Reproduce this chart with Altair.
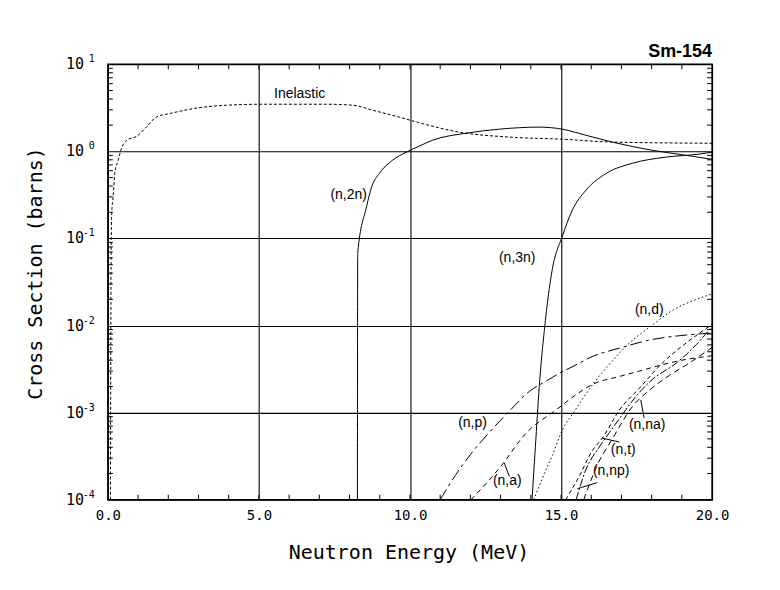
import altair as alt
import pandas as pd

# ---------------- data ----------------
inel_E = [0.085, 0.095, 0.105, 0.115, 0.13, 0.175, 0.23, 0.34, 0.45, 0.62, 0.95, 1.28, 1.61, 2.05, 2.38, 2.71,
          3.93, 5.12, 7.24, 8.1, 8.76, 9.65, 10.25, 11.64, 13.29, 15.04, 16.69, 20.0]
inel_S = [1e-4, 3e-3, 0.05, 0.12, 0.2, 0.30, 0.56, 0.79, 1.08, 1.34, 1.49, 1.91, 2.49, 2.72, 2.89, 3.05,
          3.39, 3.48, 3.48, 3.39, 2.97, 2.47, 2.16, 1.66, 1.46, 1.38, 1.28, 1.24]

n2n_E = [8.26, 8.27, 8.56, 8.73, 8.99, 9.42, 9.88, 10.31, 10.74, 11.87, 12.96, 14.28, 15.04, 15.83, 16.69, 18.02, 19.34, 20.0]
n2n_S = [1e-4, 0.068, 0.23, 0.39, 0.56, 0.79, 0.98, 1.15, 1.34, 1.62, 1.80, 1.90, 1.80, 1.53, 1.28, 1.03, 0.88, 0.81]

n3n_E = [14.04, 14.15, 14.28, 14.45, 14.71, 15.04, 15.37, 15.83, 16.5, 17.36, 18.48, 19.57, 20.0]
n3n_S = [1e-4, 4e-4, 2e-3, 9e-3, 0.044, 0.105, 0.21, 0.36, 0.56, 0.73, 0.86, 0.93, 0.98]

np_E = [11.0, 11.5, 12.0, 12.6, 13.3, 13.95, 14.55, 15.0, 15.4, 16.03, 16.93, 18.0, 19.0, 20.0]
np_S = [1e-4, 1.9e-4, 3.3e-4, 5.8e-4, 1.05e-3, 1.75e-3, 2.35e-3, 2.9e-3, 3.4e-3, 4.4e-3, 5.5e-3, 6.9e-3, 7.7e-3, 8.2e-3]

na_E = [12.02, 13.0, 13.84, 14.83, 15.49, 16.03, 16.93, 17.59, 18.35, 19.0, 19.67, 20.0]
na_S = [1e-4, 2.4e-4, 5.8e-4, 1.07e-3, 1.6e-3, 2.1e-3, 2.6e-3, 3.0e-3, 3.55e-3, 4.0e-3, 4.35e-3, 4.5e-3]

nd_E = [14.1, 14.5, 14.71, 15.04, 15.44, 16.0, 16.6, 17.2, 18.0, 18.7, 19.4, 20.0]
nd_S = [1e-4, 2.2e-4, 3.2e-4, 6.3e-4, 1.03e-3, 2e-3, 3.6e-3, 6e-3, 1e-2, 1.5e-2, 1.95e-2, 2.3e-2]

nt_E = [15.15, 15.6, 16.0, 16.4, 16.93, 17.59, 18.35, 19.14, 20.0]
nt_S = [1e-4, 1.85e-4, 3.5e-4, 5.3e-4, 1.07e-3, 1.9e-3, 3.7e-3, 6.3e-3, 1.03e-2]

nnp_E = [15.5, 15.82, 16.26, 16.6, 17.02, 17.52, 18.02, 18.81, 19.47, 20.0]
nnp_S = [1e-4, 2.2e-4, 4e-4, 5.9e-4, 9.4e-4, 1.6e-3, 2.4e-3, 3.7e-3, 6.0e-3, 9.8e-3]

nna_E = [15.75, 16.2, 16.7, 17.36, 18.0, 18.6, 19.24, 19.6, 20.0]
nna_S = [1e-4, 2.5e-4, 5e-4, 1.17e-3, 1.9e-3, 2.7e-3, 3.7e-3, 4.5e-3, 5.6e-3]

# curve labels
lab_text = ["Inelastic", "(n,2n)", "(n,3n)", "(n,d)", "(n,p)", "(n,a)", "(n,na)", "(n,t)", "(n,np)"]
lab_E = [6.35, 7.97, 13.55, 17.92, 12.07, 13.22, 17.85, 17.06, 16.66]
lab_S = [4.53, 0.318, 0.0596, 0.0151, 7.64e-4, 1.65e-4, 7.24e-4, 3.74e-4, 2.15e-4]

# leader lines for labels
ptr_E1 = [13.29, 17.75, 16.93, 16.20]
ptr_S1 = [1.85e-4, 8.7e-4, 4.6e-4, 1.57e-4]
ptr_E2 = [13.12, 17.64, 16.36, 15.54]
ptr_S2 = [2.65e-4, 1.4e-3, 5.1e-4, 1.34e-4]

# axes
x_ticks = [0, 5, 10, 15, 20]
x_minor = [e for e in range(1, 20)]
dec_vals = [10, 1, 0.1, 0.01, 0.001, 0.0001]
dec_exp = ["1", "0", "-1", "-2", "-3", "-4"]
y_minor = [m * d for d in [1e-4, 1e-3, 1e-2, 1e-1, 1] for m in range(2, 10)]

W, H = 605, 436
MONO = "DejaVu Sans Mono"
SANS = "Liberation Sans"

xs = alt.Scale(domain=[0, 20], nice=False, zero=False)
ys = alt.Scale(type="log", domain=[1e-4, 10], nice=False)

xaxis = alt.Axis(values=x_ticks, format=".1f", grid=True, gridColor="black", gridOpacity=1, gridWidth=1.1,
                 ticks=False, domain=False, labelFont=MONO, labelFontSize=14, labelColor="black",
                 labelPadding=9, labelFlush=False, labelOverlap=False,
                 title="Neutron Energy (MeV)", titleFont=MONO, titleFontSize=20, titleFontWeight="normal",
                 titleColor="black", titleX=301, titleY=53, titleAlign="center", titleBaseline="middle")
yaxis = alt.Axis(values=dec_vals, grid=True, gridColor="black", gridOpacity=1, gridWidth=1.1,
                 labels=False, ticks=False, domain=False,
                 title="Cross Section (barns)", titleFont=MONO, titleFontSize=20, titleFontWeight="normal",
                 titleColor="black", titleAngle=270, titleX=-72, titleY=209, titleAlign="center",
                 titleBaseline="middle")

X = alt.X("E:Q", scale=xs, axis=xaxis)
Y = alt.Y("S:Q", scale=ys, axis=yaxis)


def curve(E, S, dash=None):
    df = pd.DataFrame({"E": E, "S": S})
    kw = dict(color="black", strokeWidth=1, clip=True, interpolate="monotone")
    if dash:
        kw["strokeDash"] = dash
    return alt.Chart(df).mark_line(**kw).encode(x=X, y=Y, order="E:Q")


layers = [
    curve(inel_E, inel_S, [3, 2]),
    curve(n2n_E, n2n_S),
    curve(n3n_E, n3n_S),
    curve(np_E, np_S, [12, 4, 3, 4]),
    curve(na_E, na_S, [5, 4]),
    curve(nd_E, nd_S, [1.5, 2.5]),
    curve(nt_E, nt_S, [4, 3]),
    curve(nnp_E, nnp_S, [8, 2, 2, 2]),
    curve(nna_E, nna_S, [6, 4]),
]

# inside minor ticks
xm = pd.DataFrame({"E": x_minor})
layers.append(alt.Chart(xm).mark_rule(color="black", strokeWidth=1).encode(x=X, y=alt.value(H), y2=alt.value(H - 5)))
layers.append(alt.Chart(xm).mark_rule(color="black", strokeWidth=1).encode(x=X, y=alt.value(0), y2=alt.value(5)))
ym = pd.DataFrame({"S": y_minor})
layers.append(alt.Chart(ym).mark_rule(color="black", strokeWidth=1).encode(y=Y, x=alt.value(0), x2=alt.value(5)))
layers.append(alt.Chart(ym).mark_rule(color="black", strokeWidth=1).encode(y=Y, x=alt.value(W - 5), x2=alt.value(W)))

# decade labels 10^n
dl = pd.DataFrame({"S": dec_vals, "exp": dec_exp, "base": ["10"] * len(dec_vals)})
layers.append(alt.Chart(dl).mark_text(font=MONO, fontSize=15, align="center", baseline="middle", color="black")
              .encode(y=Y, x=alt.value(-33), text="base:N"))
layers.append(alt.Chart(dl).mark_text(font=MONO, fontSize=10, align="right", baseline="middle", dy=-5, color="black")
              .encode(y=Y, x=alt.value(-13), text="exp:N"))

# curve labels
lb = pd.DataFrame({"E": lab_E, "S": lab_S, "t": lab_text})
layers.append(alt.Chart(lb).mark_text(font=SANS, fontSize=14, align="center", baseline="middle", color="black")
              .encode(x=X, y=Y, text="t:N"))

# leader lines
pt = pd.DataFrame({"E": ptr_E1, "S": ptr_S1, "E2": ptr_E2, "S2": ptr_S2})
layers.append(alt.Chart(pt).mark_rule(color="black", strokeWidth=1)
              .encode(x=X, y=Y, x2="E2:Q", y2="S2:Q"))

# nuclide title
tt = pd.DataFrame({"t": ["Sm-154"]})
layers.append(alt.Chart(tt).mark_text(font=SANS, fontSize=18, fontWeight="bold", align="right",
                                      baseline="alphabetic", color="black")
              .encode(x=alt.value(W), y=alt.value(-7), text="t:N"))

chart = alt.layer(*layers).properties(
    width=W, height=H,
    padding={"left": 100, "top": 56, "right": 60, "bottom": 80},
    autosize=alt.AutoSizeParams(type="none"),
    background="white",
).configure_view(stroke="black", strokeWidth=1.5)

chart.save("out.html", embed_options={"renderer": "svg", "actions": False})
